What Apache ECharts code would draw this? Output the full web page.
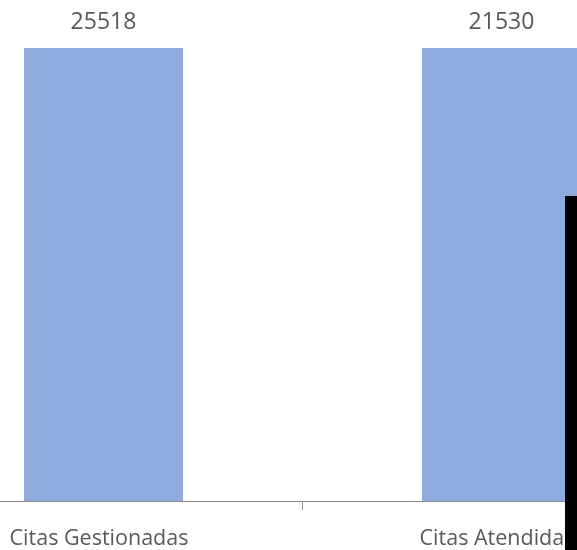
<!DOCTYPE html>
<html>
<head>
<meta charset="utf-8">
<script src="https://cdn.jsdelivr.net/npm/echarts@6/dist/echarts.min.js"></script>
<style>
html,body{margin:0;padding:0;background:#fff;overflow:hidden;width:577px;height:550px;}
#wrap{position:relative;width:577px;height:550px;overflow:hidden;}
#chart{position:absolute;left:-96px;top:0;width:900px;height:550px;}
</style>
</head>
<body>
<div id="wrap"><div id="chart"></div></div>
<script>
const categories = ['Citas Gestionadas', 'Citas Atendidas'];
const values = [25518, 21530];
const axisMax = 20000;

const offset = 96;
const chart = echarts.init(document.getElementById('chart'), null, {renderer: 'canvas'});
chart.setOption({
  animation: false,
  backgroundColor: '#ffffff',
  grid: {left: 0.5, width: 796, top: 48, bottom: 48, containLabel: false},
  xAxis: {
    type: 'category',
    data: categories,
    axisLine: {show: true, lineStyle: {color: '#8c8c8c', width: 1}},
    axisTick: {show: true, length: 9, lineStyle: {color: '#8c8c8c'}},
    axisLabel: {color: '#595959', fontSize: 21.5, fontFamily: 'Open Sans', margin: 27, padding: [0, 9, 0, 0]}
  },
  yAxis: {
    type: 'value', min: 0, max: axisMax, show: false,
    splitLine: {show: false}
  },
  series: [{
    type: 'bar',
    data: values,
    barWidth: 159,
    clip: true,
    itemStyle: {color: '#8FAADC'},
    label: {
      show: true, position: 'top', distance: 14,
      color: '#595959', fontSize: 23, fontFamily: 'Open Sans'
    }
  }],
  graphic: [{
    type: 'rect', left: 565 + offset, top: 196,
    shape: {width: 12, height: 354},
    style: {fill: '#000000'}, z: 100
  }]
});
</script>
</body>
</html>
